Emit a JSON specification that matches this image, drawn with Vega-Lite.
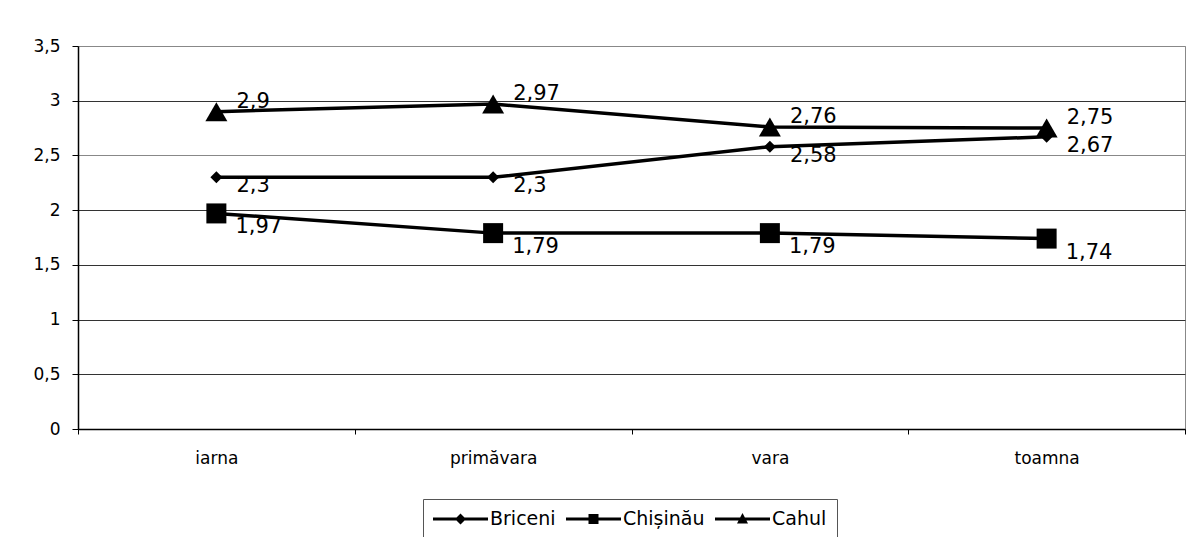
{
  "$schema": "https://vega.github.io/schema/vega-lite/v6.json",
  "width": 1107,
  "height": 383,
  "autosize": {"type": "none"},
  "padding": {"left": 78, "top": 46, "right": 8, "bottom": 108},
  "background": "white",
  "config": {
    "locale": {"number": {"decimal": ",", "thousands": ".", "grouping": [3], "currency": ["", ""]}},
    "font": "DejaVu Sans",
    "view": {"stroke": "#888888", "strokeWidth": 1}
  },
  "data": {
    "values": [
      {"oras": "Briceni", "sezon": "iarna", "valoare": 2.3},
      {"oras": "Briceni", "sezon": "primăvara", "valoare": 2.3},
      {"oras": "Briceni", "sezon": "vara", "valoare": 2.58},
      {"oras": "Briceni", "sezon": "toamna", "valoare": 2.67},
      {"oras": "Chișinău", "sezon": "iarna", "valoare": 1.97},
      {"oras": "Chișinău", "sezon": "primăvara", "valoare": 1.79},
      {"oras": "Chișinău", "sezon": "vara", "valoare": 1.79},
      {"oras": "Chișinău", "sezon": "toamna", "valoare": 1.74},
      {"oras": "Cahul", "sezon": "iarna", "valoare": 2.9},
      {"oras": "Cahul", "sezon": "primăvara", "valoare": 2.97},
      {"oras": "Cahul", "sezon": "vara", "valoare": 2.76},
      {"oras": "Cahul", "sezon": "toamna", "valoare": 2.75}
    ]
  },
  "encoding": {
    "x": {
      "field": "sezon",
      "type": "nominal",
      "sort": ["iarna", "primăvara", "vara", "toamna"],
      "scale": {"paddingInner": 0, "paddingOuter": 0},
      "axis": {
        "title": null,
        "labelAngle": 0,
        "labelFontSize": 17,
        "labelColor": "black",
        "labelPadding": 16,
        "tickBand": "extent",
        "tickSize": 5,
        "tickColor": "black",
        "domainColor": "black",
        "domainWidth": 1.5,
        "grid": false
      }
    },
    "y": {
      "field": "valoare",
      "type": "quantitative",
      "scale": {"domain": [0, 3.5], "nice": false, "zero": true},
      "axis": {
        "title": null,
        "values": [0, 0.5, 1, 1.5, 2, 2.5, 3, 3.5],
        "format": "~g",
        "labelFontSize": 17,
        "labelColor": "black",
        "labelPadding": 12,
        "tickSize": 6,
        "tickColor": "black",
        "domainColor": "black",
        "domainWidth": 1.5,
        "grid": true,
        "gridColor": {"condition": {"test": "datum.value === 3.5 || datum.value === 2.5", "value": "#888888"}, "value": "#333333"},
        "gridWidth": 1
      }
    }
  },
  "layer": [
    {
      "mark": {"type": "line", "strokeWidth": 3.5},
      "encoding": {
        "color": {
          "field": "oras",
          "type": "nominal",
          "scale": {"domain": ["Briceni", "Chișinău", "Cahul"], "range": ["black", "black", "black"]},
          "legend": {
            "title": null,
            "orient": "none",
            "legendX": 345,
            "legendY": 453,
            "direction": "horizontal",
            "symbolSize": 400,
            "labelFontSize": 19,
            "labelColor": "black",
            "labelOffset": 37,
            "columnPadding": 10,
            "padding": 10,
            "strokeColor": "#555555",
            "fillColor": "white",
            "encode": {
              "symbols": {
                "update": {
                  "shape": {"signal": "datum.value === 'Briceni' ? 'M-1,-0.16L4.5,-0.16L4.5,0.16L-1,0.16Z M1.2,0L1.75,-0.55L2.3,0L1.75,0.55Z' : datum.value === 'Chișinău' ? 'M-1,-0.16L4.5,-0.16L4.5,0.16L-1,0.16Z M1.25,-0.5L2.25,-0.5L2.25,0.5L1.25,0.5Z' : 'M-1,-0.16L4.5,-0.16L4.5,0.16L-1,0.16Z M1.2,0.45L1.75,-0.6L2.3,0.45Z'"},
                  "fill": {"value": "black"},
                  "fillOpacity": {"value": 1},
                  "stroke": {"value": "black"},
                  "strokeWidth": {"value": 0},
                  "size": {"value": 400},
                  "opacity": {"value": 1}
                }
              }
            }
          }
        }
      }
    },
    {
      "transform": [{"filter": "datum.oras === 'Briceni'"}],
      "mark": {"type": "point", "shape": "diamond", "filled": true, "color": "black", "opacity": 1, "size": 144}
    },
    {
      "transform": [{"filter": "datum.oras === 'Chișinău'"}],
      "mark": {"type": "point", "shape": "square", "filled": true, "color": "black", "opacity": 1, "size": 400}
    },
    {
      "transform": [{"filter": "datum.oras === 'Cahul'"}],
      "mark": {"type": "point", "shape": "triangle-up", "filled": true, "color": "black", "opacity": 1, "size": 484}
    },
    {
      "transform": [{"filter": "datum.oras === 'Cahul'"}],
      "mark": {"type": "text", "align": "left", "baseline": "middle", "dx": 20, "dy": -10, "fontSize": 21, "color": "black"},
      "encoding": {"text": {"field": "valoare", "type": "quantitative", "format": "~g"}}
    },
    {
      "transform": [{"filter": "datum.oras === 'Briceni'"}],
      "mark": {"type": "text", "align": "left", "baseline": "middle", "dx": 20, "dy": 9, "fontSize": 21, "color": "black"},
      "encoding": {"text": {"field": "valoare", "type": "quantitative", "format": "~g"}}
    },
    {
      "transform": [{"filter": "datum.oras === 'Chișinău'"}],
      "mark": {"type": "text", "align": "left", "baseline": "middle", "dx": 19, "dy": 14, "fontSize": 21, "color": "black"},
      "encoding": {"text": {"field": "valoare", "type": "quantitative", "format": "~g"}}
    }
  ]
}
